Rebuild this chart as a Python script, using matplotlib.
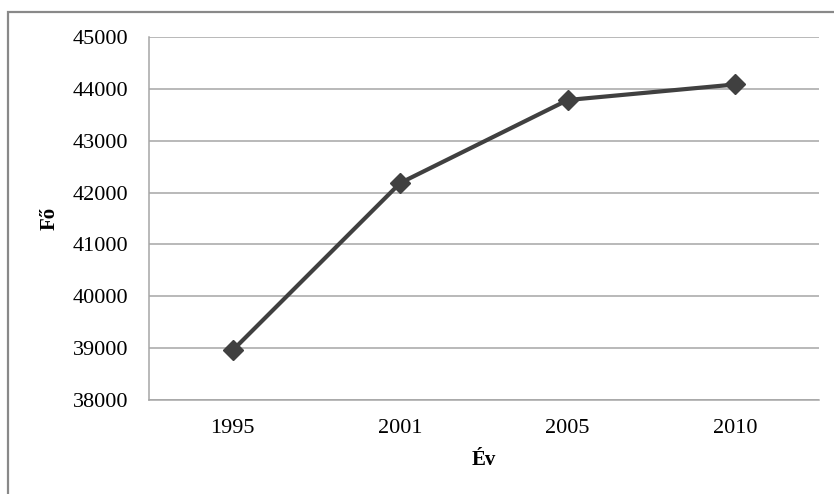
import matplotlib.pyplot as plt
from matplotlib.patches import Rectangle

years = ["1995", "2001", "2005", "2010"]
population = [38960, 42185, 43785, 44085]
y_ticks = [38000, 39000, 40000, 41000, 42000, 43000, 44000, 45000]

plt.rcParams['font.family'] = ['Liberation Serif', 'DejaVu Serif']

fig = plt.figure(figsize=(8.34, 4.94), dpi=100)
ax = fig.add_axes([149/834, 94/494, 670/834, 363/494])

# outer chart frame (runs off the right and bottom edge)
fig.patches.append(Rectangle((8/834, -0.05), 1.0, (494 - 12)/494 + 0.05,
                             transform=fig.transFigure, fill=False,
                             edgecolor='#898989', linewidth=1.6))

x = range(len(years))
ax.plot(x, population, color='#404040', linewidth=3, marker='D',
        markersize=10, zorder=3)

ax.set_xlim(-0.5, len(years) - 0.5)
ax.set_ylim(38000, 45000)
ax.set_yticks(y_ticks)
ax.set_xticks(list(x))
ax.set_xticklabels(years)
ax.yaxis.grid(True, color='#a6a6a6', linewidth=1.1)
ax.set_axisbelow(True)

for s in ['top', 'right']:
    ax.spines[s].set_visible(False)
for s in ['left', 'bottom']:
    ax.spines[s].set_color('#a6a6a6')
    ax.spines[s].set_linewidth(1.1)

ax.tick_params(length=0, labelsize=16, pad=15)
ax.tick_params(axis='x', pad=14)
ax.set_xlabel("Év", fontsize=15, fontweight='bold', labelpad=8)
ax.set_ylabel("Fő", fontsize=15, fontweight='bold', labelpad=9)

fig.savefig("out.png", dpi=100)
